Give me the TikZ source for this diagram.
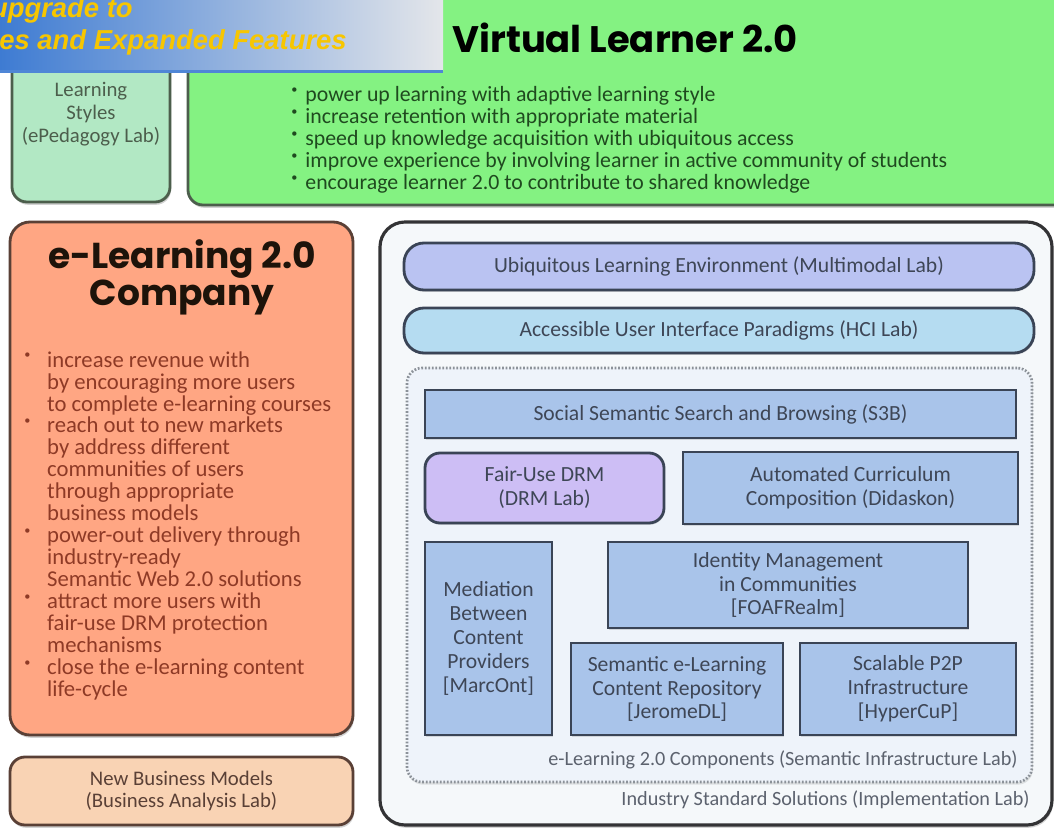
\documentclass[tikz,border=0pt]{standalone}
\usepackage{fontspec}
\setmainfont{Carlito}
\newfontfamily\titlefont{Poppins}
\newfontfamily\bannerfont{Liberation Sans}
\usetikzlibrary{positioning, shapes, shadows}

\definecolor{bannerblue}{HTML}{3C7AD2}
\definecolor{bannergray}{HTML}{E4E6EA}
\definecolor{bannerline}{HTML}{4F86D6}
\definecolor{bannertext}{HTML}{F7C600}
\definecolor{stylegreen}{HTML}{B2E8C4}
\definecolor{learnergreen}{HTML}{84F282}
\definecolor{greenedge}{HTML}{4C5E4C}
\definecolor{greentext}{HTML}{1F4A1F}
\definecolor{salmon}{HTML}{FFA683}
\definecolor{peach}{HTML}{F9D3B4}
\definecolor{brownedge}{HTML}{5A4036}
\definecolor{companytext}{HTML}{8E3A26}
\definecolor{solutionbg}{HTML}{F5F8FA}
\definecolor{outeredge}{HTML}{333335}
\definecolor{ubiqblue}{HTML}{BAC3F2}
\definecolor{accessblue}{HTML}{B5DCF1}
\definecolor{containerbg}{HTML}{EEF3FA}
\definecolor{dotgray}{HTML}{8C9299}
\definecolor{steel}{HTML}{A9C4EA}
\definecolor{drmpurple}{HTML}{CDBEF5}
\definecolor{slate}{HTML}{3A4456}
\definecolor{labtext}{HTML}{3E4656}
\definecolor{captiongray}{HTML}{5C626E}

\newcommand{\bodysize}{\fontsize{12.4}{12.5}\selectfont}
\newcommand{\boxsize}{\fontsize{12.3}{13.6}\selectfont}
\newcommand{\bul}[1]{\makebox[#1][l]{\raisebox{0.75ex}{\scriptsize\textbullet}}}

\tikzset{wh/.style 2 args={minimum width=#1*0.2mm, minimum height=#2*0.2mm}}
\tikzstyle{panel}     = [rectangle, draw=greenedge, line width=1.6pt, rounded corners=3mm, inner sep=0pt,
                         drop shadow={shadow xshift=0.6pt, shadow yshift=-1.6pt, opacity=0.35}]
\tikzstyle{titletxt}  = [font=\titlefont\bfseries\fontsize{21}{21}\selectfont, align=center, inner sep=0pt]
\tikzstyle{lab}       = [rectangle, draw=slate, line width=1.6pt, fill=steel, text=labtext, align=center,
                         inner sep=0pt, font=\boxsize,
                         drop shadow={shadow xshift=0.5pt, shadow yshift=-1pt, opacity=0.25}]
\tikzstyle{pill}      = [lab, rounded corners=4mm]
\tikzstyle{container} = [rectangle, draw=dotgray, line width=1.5pt, dash pattern=on 1pt off 1pt,
                         fill=containerbg, rounded corners=3mm, inner sep=0pt,
                         drop shadow={shadow xshift=0.5pt, shadow yshift=-1.5pt, opacity=0.2}]
\tikzstyle{caption}   = [anchor=base east, text=captiongray, inner sep=0pt, font=\fontsize{11.5}{12.5}\selectfont]

\begin{document}
\begin{tikzpicture}[x=0.2mm, y=-0.2mm, font=\bodysize]
    \useasboundingbox (0,0) rectangle (1054,827);
    \clip (0,0) rectangle (1054,827);
    \fill[white] (0,0) rectangle (1054,827);

    % top row: learning styles + virtual learner
    \node [panel, fill=stylegreen, wh={158}{232}] (styles) at (91,86) {};
    \node [text=greenedge, align=center, font=\fontsize{11.8}{13}\selectfont] (stylestext) at (91,114)
        {Learning\\Styles\\(ePedagogy Lab)};

    \node [panel, fill=learnergreen, wh={892}{235}] (learner) at (634,87.5) {};
    \node [titletxt] (learnertitle) at (625,38) {Virtual Learner 2.0};
    \node [anchor=north west, align=left, text=greentext, inner sep=0pt] (learnerlist) at (291,86)
        {\bul{8pt}power up learning with adaptive learning style\\
         \bul{8pt}increase retention with appropriate material\\
         \bul{8pt}speed up knowledge acquisition with ubiquitous access\\
         \bul{8pt}improve experience by involving learner in active community of students\\
         \bul{8pt}encourage learner 2.0 to contribute to shared knowledge};

    % banner
    \node [rectangle, inner sep=0pt, left color=bannerblue, right color=bannergray,
           wh={448}{76}] (banner) at (219,33) {};
    \draw [bannerline, line width=1.5pt] (banner.south west) -- (banner.south east);
    \node [anchor=base east, text=bannertext, inner sep=0pt,
           font=\bannerfont\bfseries\itshape\fontsize{15.6}{18}\selectfont] (upgrade) at (133,18) {upgrade to};
    \node [anchor=base west, text=bannertext, inner sep=0pt,
           font=\bannerfont\bfseries\itshape\fontsize{15.6}{18}\selectfont] (features) at (-1,50) {es and Expanded Features};

    % company column
    \node [panel, fill=salmon, draw=brownedge, rounded corners=4mm, wh={343}{513}] (company) at (181.5,478.5) {};
    \node [titletxt, text=black!85!brown, font=\titlefont\bfseries\fontsize{20.5}{21}\selectfont] (companytitle)
        at (182,277) {e-Learning 2.0\\Company};
    \node [anchor=north west, align=left, text=companytext, inner sep=0pt,
           font=\fontsize{12.9}{12.5}\selectfont] (companylist) at (24,351)
        {\bul{13pt}increase revenue with\\
         \hspace*{13pt}by encouraging more users\\
         \hspace*{13pt}to complete e-learning courses\\
         \bul{13pt}reach out to new markets\\
         \hspace*{13pt}by address different\\
         \hspace*{13pt}communities of users\\
         \hspace*{13pt}through appropriate\\
         \hspace*{13pt}business models\\
         \bul{13pt}power-out delivery through\\
         \hspace*{13pt}industry-ready\\
         \hspace*{13pt}Semantic Web 2.0 solutions\\
         \bul{13pt}attract more users with\\
         \hspace*{13pt}fair-use DRM protection\\
         \hspace*{13pt}mechanisms\\
         \bul{13pt}close the e-learning content\\
         \hspace*{13pt}life-cycle};

    \node [panel, fill=peach, draw=brownedge, wh={343}{68}, align=center,
           text=brownedge, font=\fontsize{11.8}{12.5}\selectfont] (business) at (181.5,791)
        {New Business Models\\(Business Analysis Lab)};

    % solutions
    \node [panel, fill=solutionbg, draw=outeredge, line width=1.8pt, rounded corners=5mm, wh={672}{603}]
        (solutions) at (716,523.5) {};
    \node [caption] (solutionslabel) at (1030,805) {Industry Standard Solutions (Implementation Lab)};

    \node [pill, fill=ubiqblue, wh={630}{47}] (ubiquitous) at (719,266.5)
        {Ubiquitous Learning Environment (Multimodal Lab)};
    \node [pill, fill=accessblue, wh={630}{45}] (accessible) at (719,330.5)
        {Accessible User Interface Paradigms (HCI Lab)};

    \node [container, wh={625}{414}] (components) at (719.5,575) {};
    \node [caption] (componentslabel) at (1018,765) {e-Learning 2.0 Components (Semantic Infrastructure Lab)};

    \node [lab, wh={591}{48}] (search) at (720.5,414) {Social Semantic Search and Browsing (S3B)};
    \node [lab, fill=drmpurple, rounded corners=3mm, wh={239}{70}] (drm) at (544.5,488) {Fair-Use DRM\\(DRM Lab)};
    \node [lab, wh={335}{72}] (curriculum) at (850.5,488) {Automated Curriculum\\Composition (Didaskon)};
    \node [lab, wh={127}{193}] (mediation) at (488.5,638.5) {Mediation\\Between\\Content\\Providers\\{[MarcOnt]}};
    \node [lab, wh={360}{86}] (identity) at (788,585) {Identity Management\\in Communities\\{[FOAFRealm]}};
    \node [lab, wh={212}{92}] (repository) at (677,689) {Semantic e-Learning\\Content Repository\\{[JeromeDL]}};
    \node [lab, wh={216}{92}] (peers) at (908,689) {Scalable P2P\\Infrastructure\\{[HyperCuP]}};
\end{tikzpicture}
\end{document}
